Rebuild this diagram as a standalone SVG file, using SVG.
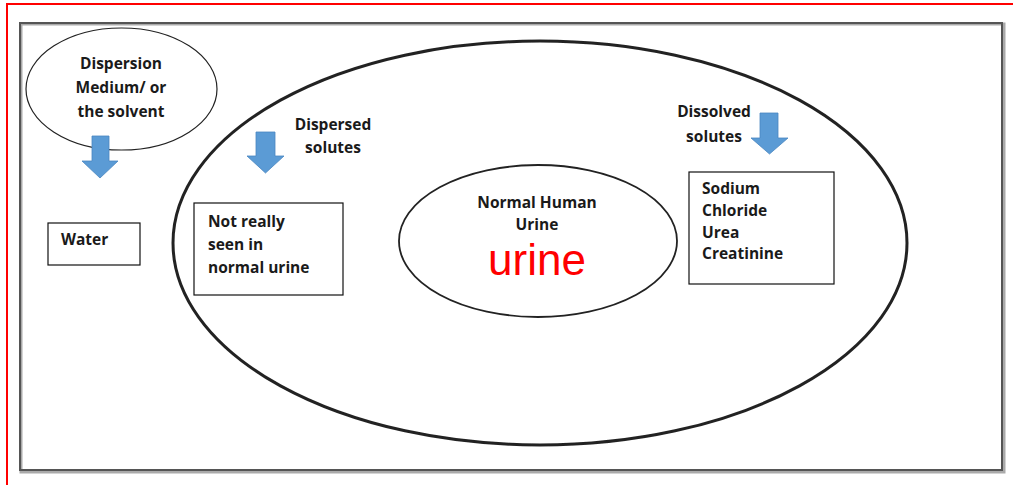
<svg xmlns="http://www.w3.org/2000/svg" width="1013" height="485" viewBox="0 0 1013 485">
<style>
.t{font-family:"Open Sans","Liberation Sans",sans-serif;font-weight:700;font-size:15.5px;fill:#1a1a1a}
.c{text-anchor:middle}
.box{fill:#fff;stroke:#111;stroke-width:1.2}
.arr{fill:#5b9bd5;stroke:#4a86c0;stroke-width:0.8}
</style>
<defs>
<filter id="blur" x="-5%" y="-5%" width="110%" height="110%"><feGaussianBlur stdDeviation="0.7"/></filter>
</defs>
<rect width="1013" height="485" fill="#fff"/>
<path d="M7,485 V4 H1013" fill="none" stroke="#f00" stroke-width="2"/>
<g id="frame">
<rect x="21" y="24" width="983" height="448" fill="none" stroke="#aaa" stroke-width="3" filter="url(#blur)"/>
<rect x="20" y="23" width="982" height="447" fill="none" stroke="#555" stroke-width="2"/>
</g>
<g id="outer-ellipse">
<ellipse cx="540" cy="243" rx="367" ry="202" fill="none" stroke="#222" stroke-width="3" filter="url(#blur)"/>
</g>
<g id="dispersion-medium">
<ellipse cx="121.5" cy="89" rx="95.5" ry="61" fill="#fff" stroke="#222" stroke-width="1.2"/>
<text class="t c" x="121" y="69">Dispersion</text>
<text class="t c" x="121" y="93">Medium/ or</text>
<text class="t c" x="121" y="117">the solvent</text>
</g>
<g id="inner-ellipse">
<ellipse cx="538" cy="241" rx="139" ry="76" fill="#fff" stroke="#222" stroke-width="1.8" filter="url(#blur)"/>
<text class="t c" x="537" y="208">Normal Human</text>
<text class="t c" x="537" y="230">Urine</text>
<text x="537" y="275" text-anchor="middle" font-family="Liberation Sans, Arial, sans-serif" font-size="44" fill="#f00">urine</text>
</g>
<g id="connectors">
<path class="arr" d="M92,136 H109 V161 H118 L100,178 L82,161 H92 Z"/>
<path class="arr" d="M256,132 H275 V156 H284 L265.5,173 L247,156 H256 Z"/>
<path class="arr" d="M760,113 H778 V138 H788 L769.5,154 L751,138 H760 Z"/>
</g>
<g id="dispersed-solutes">
<text class="t c" x="333" y="130">Dispersed</text>
<text class="t c" x="333" y="153">solutes</text>
</g>
<g id="dissolved-solutes">
<text class="t c" x="714" y="117">Dissolved</text>
<text class="t c" x="714" y="142">solutes</text>
</g>
<g id="water">
<rect class="box" x="48" y="223" width="92" height="42"/>
<text class="t" x="61" y="245">Water</text>
</g>
<g id="not-really-seen">
<rect class="box" x="194" y="203" width="149" height="92"/>
<text class="t" x="208" y="227">Not really</text>
<text class="t" x="208" y="250">seen in</text>
<text class="t" x="208" y="273">normal urine</text>
</g>
<g id="sodium-chloride">
<rect class="box" x="689" y="172" width="145" height="112"/>
<text class="t" x="702" y="194">Sodium</text>
<text class="t" x="702" y="216">Chloride</text>
<text class="t" x="702" y="238">Urea</text>
<text class="t" x="702" y="259">Creatinine</text>
</g>
</svg>
